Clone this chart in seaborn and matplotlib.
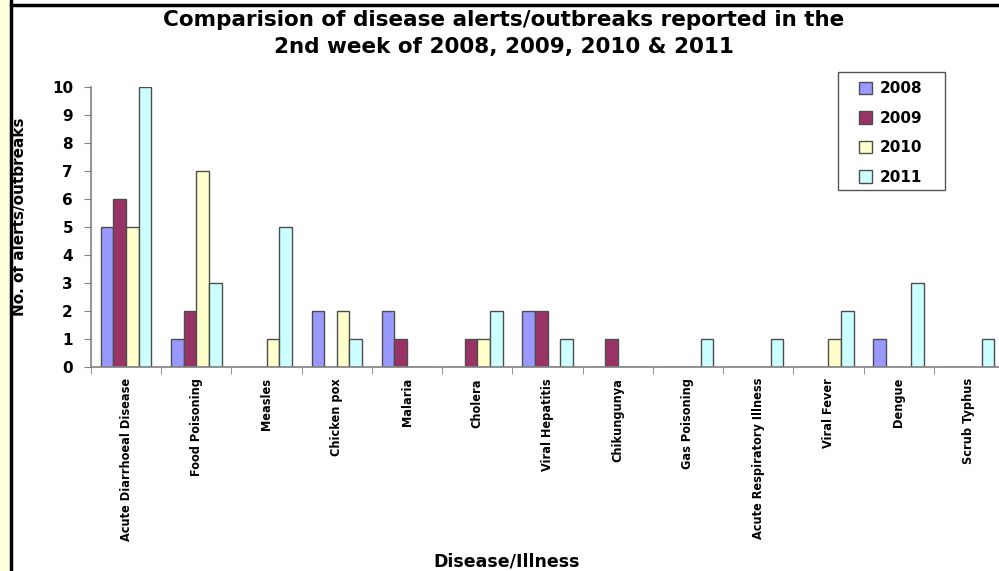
import matplotlib
matplotlib.use("Agg")
import matplotlib.pyplot as plt
import seaborn as sns
import pandas as pd
from matplotlib import font_manager
from matplotlib.patches import Rectangle
from matplotlib.lines import Line2D
from matplotlib.ticker import FixedLocator

# Data
diseases = [
    "Acute Diarrhoeal Disease", "Food Poisoning", "Measles", "Chicken pox",
    "Malaria", "Cholera", "Viral Hepatitis", "Chikungunya", "Gas Poisoning",
    "Acute Respiratory Illness", "Viral Fever", "Dengue", "Scrub Typhus",
]
years = ["2008", "2009", "2010", "2011"]
y2008 = [5, 1, 0, 2, 2, 0, 2, 0, 0, 0, 0, 1, 0]
y2009 = [6, 2, 0, 0, 1, 1, 2, 1, 0, 0, 0, 0, 0]
y2010 = [5, 7, 1, 2, 0, 1, 0, 0, 0, 0, 1, 0, 0]
y2011 = [10, 3, 5, 1, 0, 2, 1, 0, 1, 1, 2, 3, 1]
colors = ["#9999FF", "#993366", "#FFFFCC", "#CCFFFF"]

rows = []
for yr, vals in zip(years, [y2008, y2009, y2010, y2011]):
    for d, v in zip(diseases, vals):
        rows.append({"disease": d, "year": yr, "count": v})
df = pd.DataFrame(rows)

sns.set_style("white")
plt.rcParams["font.family"] = ["DejaVu Sans"]
for k in ["text.color", "axes.labelcolor", "xtick.color", "ytick.color"]:
    plt.rcParams[k] = "black"

# look for a narrow / condensed face for the category labels
narrow = None
for f in font_manager.fontManager.ttflist:
    n = (f.name + " " + f.fname).lower()
    if ("narrow" in n or "condensed" in n) and f.weight in ("bold", 700, "heavy"):
        narrow = f
        break
if narrow is not None:
    tick_font = font_manager.FontProperties(fname=narrow.fname, size=10.5)
else:
    tick_font = font_manager.FontProperties(family="DejaVu Sans", weight="bold", size=10.5)

W, H = 999, 571
fig = plt.figure(figsize=(W / 100, H / 100), dpi=100)
fig.patch.set_facecolor("white")

# frame decoration: yellow strip at left, black border lines
fig.patches.append(Rectangle((0, 0), 10 / W, 1, transform=fig.transFigure,
                             facecolor="#FFFFDD", edgecolor="none", zorder=0))
fig.lines.append(Line2D([11 / W, 11 / W], [0, 1], transform=fig.transFigure,
                        color="black", lw=2.5))
fig.lines.append(Line2D([11 / W, 1], [1 - 4.5 / H, 1 - 4.5 / H], transform=fig.transFigure,
                        color="black", lw=2.5))

left, right, top, bottom = 91, 1004, 87, 367
ax = fig.add_axes([left / W, 1 - bottom / H, (right - left) / W, (bottom - top) / H])

sns.barplot(data=df, x="disease", y="count", hue="year", palette=colors,
            width=0.72, edgecolor="#4d4d4d", linewidth=1.0, ax=ax,
            legend=True, saturation=1)

ax.set_xlim(-0.5, len(diseases) - 0.5)
ax.set_ylim(0, 10)
ax.set_yticks(range(0, 11))
ax.set_yticklabels([str(i) for i in range(0, 11)], fontsize=11, fontweight="bold")

for s in ["top", "right"]:
    ax.spines[s].set_visible(False)
for s in ["left", "bottom"]:
    ax.spines[s].set_color("#808080")
    ax.spines[s].set_linewidth(1.2)

ax.tick_params(axis="y", which="major", direction="out", length=5, color="#808080",
               left=True, pad=8)
ax.tick_params(axis="x", which="major", length=0, pad=8)
ax.xaxis.set_minor_locator(FixedLocator([i - 0.5 for i in range(len(diseases) + 1)]))
ax.tick_params(axis="x", which="minor", direction="out", length=5, color="#808080",
               bottom=True)

ax.set_xticks(range(len(diseases)))
labels = ax.set_xticklabels(diseases, rotation=90, va="top", ha="center",
                            fontproperties=tick_font)
ax.set_xlabel("")
ax.set_ylabel("")

# shrink category labels so the longest one is about as long as in the reference
fig.canvas.draw()
renderer = fig.canvas.get_renderer()
longest = max(t.get_window_extent(renderer).height for t in labels)
if longest > 164:
    size = 10.5 * 162 / longest
    for t in labels:
        t.set_fontsize(size)

fig.text(20 / W, 1 - 217 / H, "No. of alerts/outbreaks", rotation=90,
         ha="center", va="center", fontsize=11, fontweight="bold")
fig.text(507 / W, 1 - 561 / H, "Disease/Illness", ha="center", va="center",
         fontsize=12.5, fontweight="bold")
fig.text(504 / W, 1 - 33.5 / H,
         "Comparision of disease alerts/outbreaks reported in the\n2nd week of 2008, 2009, 2010 & 2011",
         ha="center", va="center", fontsize=15.5, fontweight="bold", linespacing=1.45)

# legend without its own frame, boxed at the reference position
leg = ax.legend(loc="upper left",
                bbox_to_anchor=((847 - left) / (right - left), 1 + (87 - 69) / (bottom - top)),
                frameon=False, prop={"weight": "bold", "size": 11},
                handlelength=0.85, handleheight=0.85,
                labelspacing=0.95, borderpad=0.3, handletextpad=0.5)
for h in leg.legend_handles:
    h.set_edgecolor("#4d4d4d")
fig.patches.append(Rectangle((838 / W, 1 - 190 / H), (945 - 838) / W, (190 - 72) / H,
                             transform=fig.transFigure, facecolor="none",
                             edgecolor="#555555", lw=1.0, zorder=5))

fig.savefig("out.png", dpi=100)
